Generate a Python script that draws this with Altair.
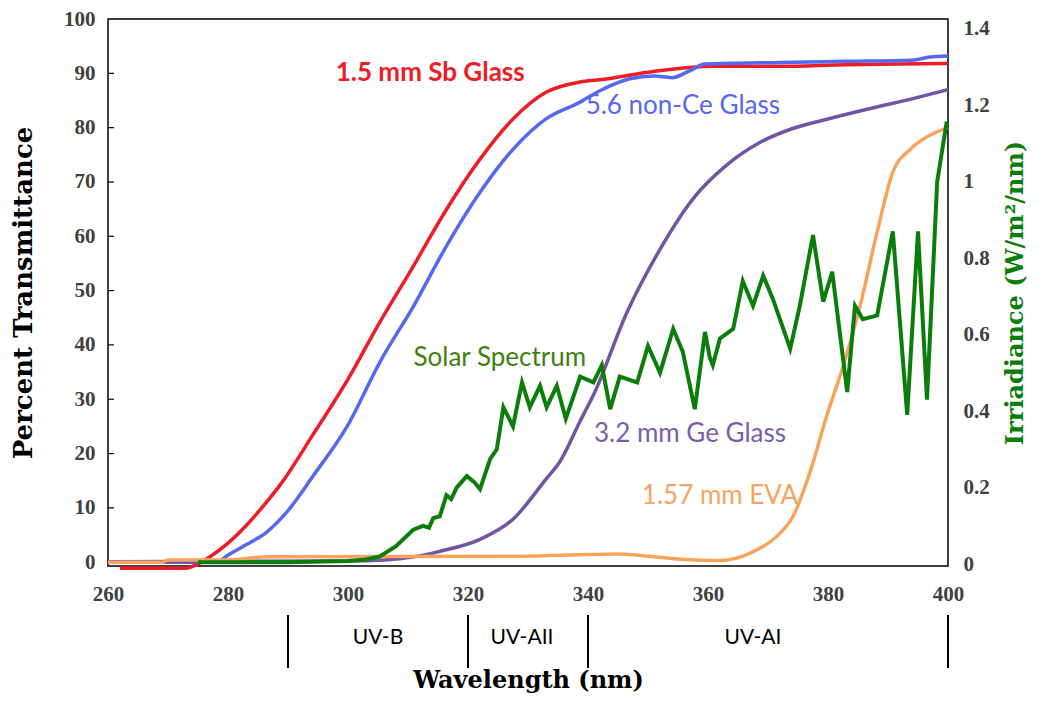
import altair as alt
import pandas as pd

# ---------------- data ----------------
red_wl = [262, 273, 275, 277, 280, 283, 286, 289, 294, 300, 305, 311, 316, 322, 327.5, 333, 338.7, 342, 350, 361, 372, 383, 392, 400]
red_t = [-1.1, -1.1, -0.3, 1.0, 3.5, 6.7, 10.5, 14.7, 23.2, 33.7, 43.6, 54.7, 64.2, 74.2, 81.6, 86.5, 88.4, 88.8, 90.2, 91.3, 91.3, 91.6, 91.7, 91.8]

blue_wl = [260, 278, 280, 283, 286.4, 290, 294.2, 300, 305.3, 311, 316.4, 322, 327.5, 333, 338.7, 342, 347, 351, 354, 357, 359.5, 372, 383, 394, 397, 400]
blue_t = [0, 0, 1.3, 3.2, 5.5, 9.5, 15.9, 25.3, 36.8, 47.3, 58.2, 68.1, 76, 81.6, 84.7, 86.8, 89, 89.5, 89.2, 90.5, 91.7, 92, 92.2, 92.4, 93, 93.2]

purple_wl = [260, 300, 306, 311, 315.3, 322, 327.5, 333, 335.3, 338.7, 341, 346.5, 352, 357.5, 363, 368.7, 374, 380, 387, 394, 400]
purple_t = [0.1, 0.2, 0.4, 1.0, 2.0, 4.2, 7.9, 15.3, 18.5, 26, 31, 46, 57.6, 66.9, 73, 77.3, 79.8, 81.6, 83.5, 85.3, 87]

orange_wl = [260, 269, 270, 279, 287, 329, 340, 345, 349, 355, 362, 365.8, 368, 371.5, 374.2, 377, 379.8, 382.5, 385.3, 388.2, 390.8, 393.7, 396.5, 400]
orange_t = [0, 0, 0.4, 0.4, 1.0, 1.1, 1.4, 1.5, 1.2, 0.6, 0.3, 1.1, 2.2, 4.8, 8.5, 16.6, 27, 36, 47, 60.8, 71.8, 76, 78.3, 80]

solar_wl = [275, 290, 300, 303, 305.3, 308, 310.9, 312.5, 313.5, 314.2, 315.3, 316.4, 317.2, 318.1, 319.8, 321, 322,
            323.7, 324.8, 325.9, 327.5, 329, 330.3, 332, 333.1, 334.8, 336.3, 338.7, 340.9, 342.3, 343.7, 345.3,
            348.2, 350, 352, 354.2, 355.8, 357.8, 359.5, 360.3, 360.8, 362, 364.2, 365.8, 367.5, 369.2, 370.8,
            373.7, 375.3, 377.5, 379.2, 380.7, 383.2, 384.5, 385.8, 388.2, 390.8, 393.2, 395, 396.5, 398.2, 399.8]
solar_irr = [0.005, 0.005, 0.008, 0.012, 0.02, 0.047, 0.09, 0.1, 0.095, 0.12, 0.125, 0.18, 0.17, 0.2, 0.23, 0.215, 0.196,
             0.275, 0.3, 0.41, 0.36, 0.475, 0.41, 0.466, 0.41, 0.466, 0.38, 0.49, 0.475, 0.52, 0.405, 0.49,
             0.475, 0.57, 0.5, 0.615, 0.555, 0.405, 0.607, 0.54, 0.52, 0.59, 0.615, 0.74, 0.675, 0.754, 0.694,
             0.563, 0.675, 0.86, 0.686, 0.764, 0.45, 0.675, 0.64, 0.65, 0.87, 0.39, 0.87, 0.43, 1.0, 1.157]

series_names = ["1.5 mm Sb Glass", "5.6 non-Ce Glass", "3.2 mm Ge Glass", "1.57 mm EVA"]
series_colors = ["#ee1c25", "#5468f0", "#7254a3", "#f7a35c"]

# curve labels: text, wavelength, transmittance
label_text = ["1.5 mm Sb Glass", "5.6 non-Ce Glass", "Solar Spectrum", "3.2 mm Ge Glass", "1.57 mm EVA"]
label_wl = [313.7, 355.8, 325.3, 357.0, 362.0]
label_t = [90.0, 84.0, 37.5, 23.6, 12.2]
label_color = ["#ee1c25", "#5468f0", "#3f7f0f", "#7a5ea8", "#f4a460"]

band_edges = [290, 320, 340, 400]
band_names = ["UV-B", "UV-AII", "UV-AI"]
band_label_wl = [305.0, 329.0, 367.5]

x_ticks = [260, 280, 300, 320, 340, 360, 380, 400]
left_ticks = list(range(0, 101, 10))
right_ticks = [0, 0.2, 0.4, 0.6, 0.8, 1.0, 1.2, 1.4]

# ---------------- tables ----------------
frames = []
for name, wl, t in [(series_names[0], red_wl, red_t), (series_names[1], blue_wl, blue_t),
                    (series_names[2], purple_wl, purple_t), (series_names[3], orange_wl, orange_t)]:
    frames.append(pd.DataFrame({"series": name, "wl": wl, "T": t}))
trans = pd.concat(frames, ignore_index=True)
solar = pd.DataFrame({"wl": solar_wl, "irr": solar_irr})
labels = pd.DataFrame({"text": label_text, "wl": label_wl, "T": label_t, "color": label_color})
edges = pd.DataFrame({"wl": band_edges})
bands = pd.DataFrame({"text": band_names, "wl": band_label_wl})
inner_ticks = pd.DataFrame({"T": left_ticks[1:-1]})

W, H = 840, 547
SERIF = "Liberation Serif"
TSERIF = "DejaVu Serif"
SANS = "Lato"

xs = alt.Scale(domain=[260, 400], nice=False, zero=False)
yl = alt.Scale(domain=[-0.7, 100], nice=False, zero=False)
yr = alt.Scale(domain=[-0.005, 1.425], nice=False, zero=False)

x_axis = alt.Axis(values=x_ticks, ticks=False, domain=False, grid=False, labelFlush=False,
                  labelFont=SERIF, labelFontSize=21, labelFontWeight="bold", labelColor="#404040",
                  labelPadding=17, title="Wavelength (nm)", titleFont=TSERIF, titleFontSize=24,
                  titleFontWeight="bold", titleColor="black", titlePadding=64)
left_axis = alt.Axis(values=left_ticks, ticks=False, domain=False, grid=False, labelFlush=False,
                     labelFont=SERIF, labelFontSize=21, labelFontWeight="bold", labelColor="#404040",
                     labelPadding=13, title="Percent Transmittance", titleFont=TSERIF, titleFontSize=26,
                     titleFontWeight="bold", titleColor="black", titlePadding=27)
right_axis = alt.Axis(orient="right", values=right_ticks, format="~g", ticks=False, domain=False, grid=False,
                      labelFlush=False,
                      labelFont=SERIF, labelFontSize=21, labelFontWeight="bold", labelColor="#404040",
                      labelPadding=15, title="Irriadiance (W/m²/nm)", titleFont=TSERIF, titleFontSize=24,
                      titleFontWeight="bold", titleColor="#0b7d0b", titlePadding=14,
                      titleAngle=270, titleBaseline="top")

lines = alt.Chart(trans).mark_line(strokeWidth=3.5, interpolate="monotone").encode(
    x=alt.X("wl:Q", scale=xs, axis=x_axis),
    y=alt.Y("T:Q", scale=yl, axis=left_axis),
    color=alt.Color("series:N", scale=alt.Scale(domain=series_names, range=series_colors), legend=None),
    detail="series:N",
)

ticks_in = alt.Chart(inner_ticks).mark_rule(color="black", strokeWidth=1.2).encode(
    y=alt.Y("T:Q", scale=yl), x=alt.value(0), x2=alt.value(6))

lab_bold = alt.Chart(labels[labels["text"] == "1.5 mm Sb Glass"]).mark_text(
    font=SANS, fontSize=26, fontWeight="bold").encode(
    x=alt.X("wl:Q", scale=xs), y=alt.Y("T:Q", scale=yl), text="text:N", color=alt.Color("color:N", scale=None))
lab_norm = alt.Chart(labels[labels["text"] != "1.5 mm Sb Glass"]).mark_text(
    font=SANS, fontSize=26).encode(
    x=alt.X("wl:Q", scale=xs), y=alt.Y("T:Q", scale=yl), text="text:N", color=alt.Color("color:N", scale=None))

band_rules = alt.Chart(edges).mark_rule(color="black", strokeWidth=2).encode(
    x=alt.X("wl:Q", scale=xs), y=alt.value(H + 49), y2=alt.value(H + 102))
band_text = alt.Chart(bands).mark_text(font=SANS, fontSize=21, color="black").encode(
    x=alt.X("wl:Q", scale=xs), y=alt.value(H + 72), text="text:N")

left_group = alt.layer(lines, ticks_in, lab_bold, lab_norm, band_rules, band_text)

solar_line = alt.Chart(solar).mark_line(strokeWidth=4, color="#0b7d0b").encode(
    x=alt.X("wl:Q", scale=xs),
    y=alt.Y("irr:Q", scale=yr, axis=right_axis),
)

chart = alt.layer(left_group, solar_line).resolve_scale(y="independent").properties(
    width=W, height=H,
    autosize=alt.AutoSizeParams(type="none"),
    padding={"left": 100, "top": 11, "right": 87, "bottom": 131},
).configure_view(stroke="black", strokeWidth=1.5)

chart.save("out.html", embed_options={"renderer": "svg", "actions": False})
